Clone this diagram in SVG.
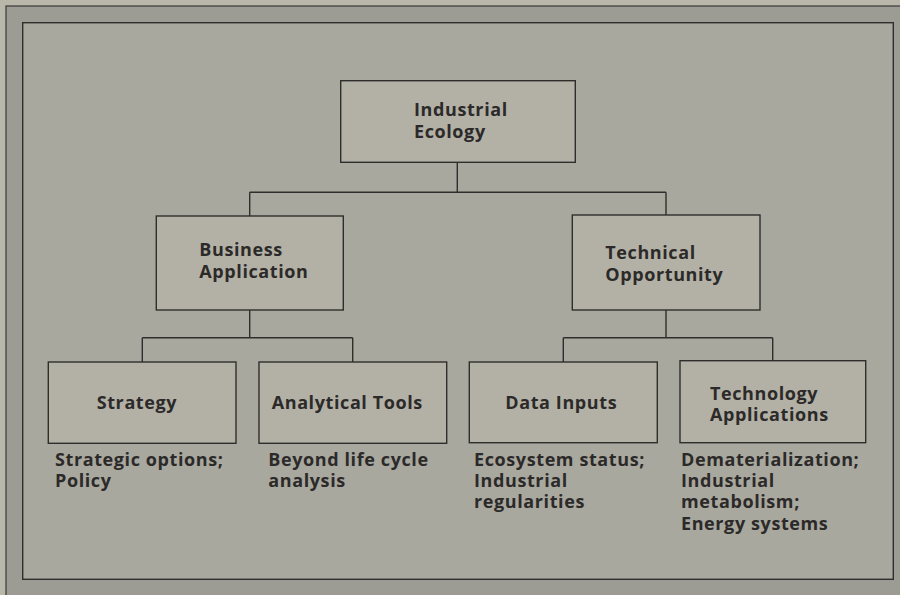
<svg xmlns="http://www.w3.org/2000/svg" width="900" height="595" viewBox="0 0 900 595">
  <style>
    .box { fill: #b3b1a6; stroke: #2f2e2c; stroke-width: 1.4; }
    .link { fill: none; stroke: #2f2e2c; stroke-width: 1.4; }
    .t { font-family: "Open Sans", "DejaVu Sans", sans-serif; font-weight: bold; font-size: 18px; letter-spacing: 0.6px; fill: #2c2a29; }
  </style>

  <!-- paper and framed panel -->
  <rect x="0" y="0" width="900" height="595" fill="#b9b6aa"/>
  <rect x="6" y="6" width="900" height="600" fill="#9d9c94" stroke="#3a3937" stroke-width="1.2"/>
  <rect x="22.7" y="22.7" width="870.6" height="556.6" fill="#a9a89f" stroke="#2f2e2c" stroke-width="1.4"/>

  <!-- connectors -->
  <g id="connectors">
    <path class="link" d="M457.3,162.3 V192.3 M249.7,192.3 H666 M249.7,192.3 V216 M666,192.3 V215"/>
    <path class="link" d="M249.7,310 V337.7 M142.3,337.7 H352.7 M142.3,337.7 V362 M352.7,337.7 V362"/>
    <path class="link" d="M666,310 V337.7 M563.3,337.7 H772.7 M563.3,337.7 V362 M772.7,337.7 V360.7"/>
  </g>

  <g id="industrial-ecology">
    <rect class="box" x="340.7" y="80.7" width="234.6" height="81.6"/>
    <text class="t" x="414" y="116">Industrial</text>
    <text class="t" x="414" y="137.5">Ecology</text>
  </g>

  <g id="business-application">
    <rect class="box" x="156.3" y="216" width="187" height="94"/>
    <text class="t" x="199.3" y="256">Business</text>
    <text class="t" x="199.3" y="278">Application</text>
  </g>

  <g id="technical-opportunity">
    <rect class="box" x="572.3" y="215" width="187.7" height="95"/>
    <text class="t" x="605.3" y="259">Technical</text>
    <text class="t" x="605.3" y="281">Opportunity</text>
  </g>

  <g id="strategy">
    <rect class="box" x="48.3" y="362" width="187.7" height="81.3"/>
    <text class="t" x="96.7" y="409.3">Strategy</text>
    <text class="t" x="55" y="465.7">Strategic options;</text>
    <text class="t" x="55" y="486.7">Policy</text>
  </g>

  <g id="analytical-tools">
    <rect class="box" x="259" y="362" width="187.7" height="81.3"/>
    <text class="t" x="271.7" y="409.3">Analytical Tools</text>
    <text class="t" x="268.3" y="465.7">Beyond life cycle</text>
    <text class="t" x="268.3" y="486.7">analysis</text>
  </g>

  <g id="data-inputs">
    <rect class="box" x="469.3" y="362" width="188" height="80.7"/>
    <text class="t" x="505.3" y="409.3">Data Inputs</text>
    <text class="t" x="474" y="465.7">Ecosystem status;</text>
    <text class="t" x="474" y="487">Industrial</text>
    <text class="t" x="474" y="508.3">regularities</text>
  </g>

  <g id="technology-applications">
    <rect class="box" x="680" y="360.7" width="185.7" height="82"/>
    <text class="t" x="710" y="400">Technology</text>
    <text class="t" x="710" y="420.5">Applications</text>
    <text class="t" x="681" y="465.7">Dematerialization;</text>
    <text class="t" x="681" y="487">Industrial</text>
    <text class="t" x="681" y="508.3">metabolism;</text>
    <text class="t" x="681" y="529.7">Energy systems</text>
  </g>
</svg>
